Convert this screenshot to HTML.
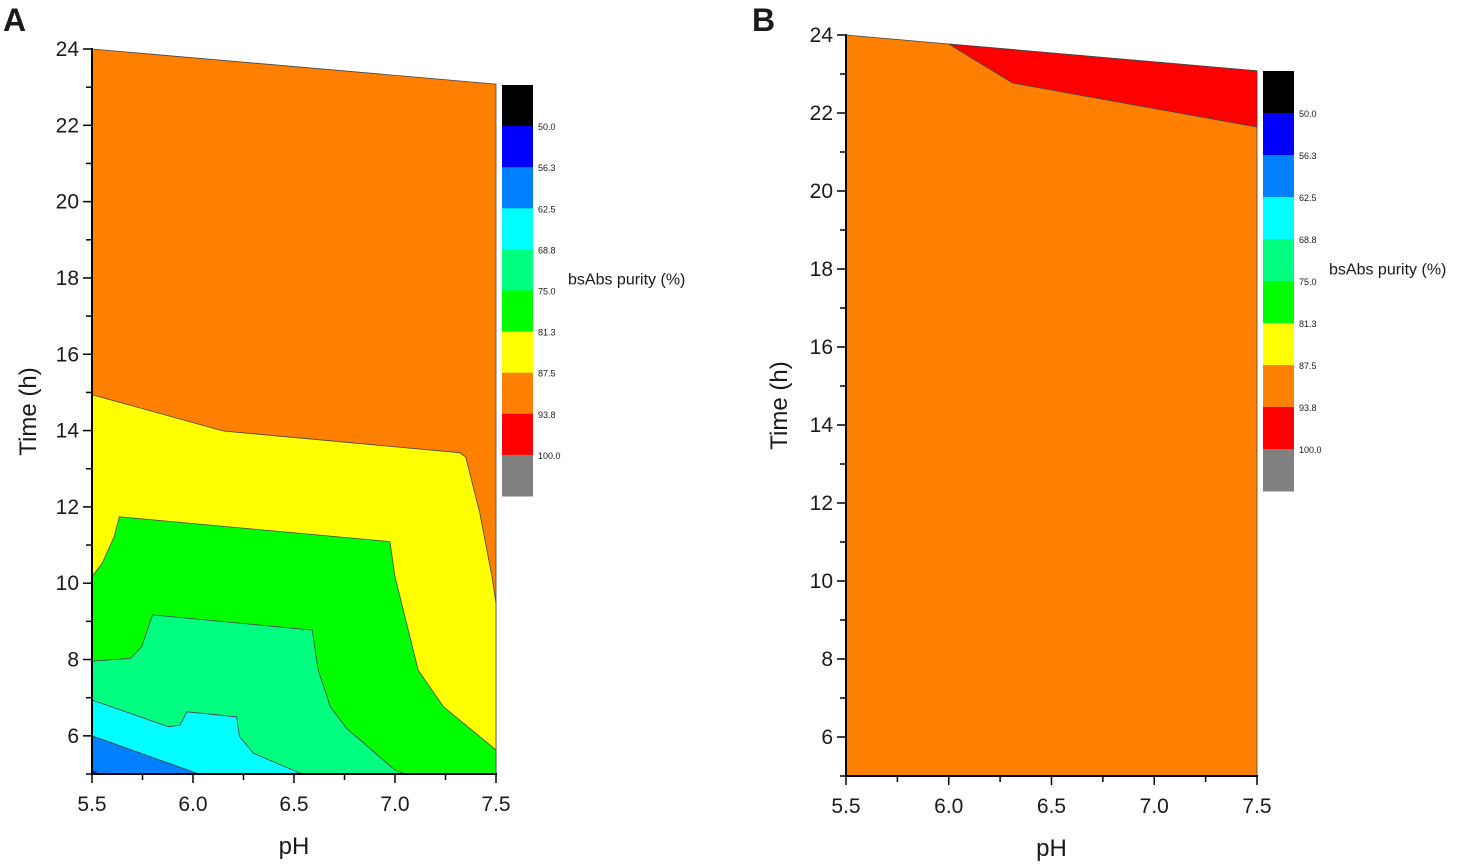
<!DOCTYPE html>
<html><head><meta charset="utf-8"><style>
body{margin:0;background:#fff;width:1462px;height:865px;overflow:hidden}
svg{display:block}
text{font-family:"Liberation Sans",Arial,sans-serif;fill:#1a1a1a}
</style></head><body>
<svg id="chart" width="1462" height="865" viewBox="0 0 1462 865"></svg>
<script>
// ---- data ----
const xTicks=[5.5,6.0,6.5,7.0,7.5];
const yTicks=[6,8,10,12,14,16,18,20,22,24];
const levelLabels=["50.0","56.3","62.5","68.8","75.0","81.3","87.5","93.8","100.0"];
const levelColors=["#000000","#0000ff","#0080ff","#00ffff","#00ff80","#00ff00","#ffff00","#ff8000","#ff0000","#808080"];
// Panel A boundaries [pH, time]
const aTop=[[5.5,24.0],[7.5,23.08]];
const aOrangeYellow=[[5.5,14.94],[6.15,13.99],[7.32,13.42],[7.35,13.31],[7.42,11.84],[7.48,10.17],[7.5,9.47]];
const aYellowGreen=[[5.5,10.17],[5.55,10.52],[5.61,11.22],[5.635,11.74],[6.975,11.09],[7.0,10.17],[7.115,7.72],[7.24,6.76],[7.5,5.63]];
const aGreenTeal=[[5.5,7.96],[5.69,8.03],[5.746,8.34],[5.80,9.17],[6.59,8.77],[6.62,7.72],[6.68,6.76],[6.76,6.20],[7.0,5.10],[7.05,5.0]];
const aTealCyan=[[5.5,6.94],[5.878,6.24],[5.935,6.28],[5.97,6.63],[6.216,6.50],[6.23,5.98],[6.30,5.54],[6.54,5.0]];
const aCyanBlue=[[5.5,6.0],[6.03,5.0]];
const aBlueDark=[[5.5,5.1],[5.54,5.0]];
// Panel B
const bTop=[[5.5,24.0],[6.0,23.77],[7.5,23.08]];
const bRed=[[6.0,23.77],[7.5,23.08],[7.5,21.64],[6.31,22.77]];

const svg=document.getElementById('chart');
const NS='http://www.w3.org/2000/svg';
function mk(tag,attrs,parent){const e=document.createElementNS(NS,tag);for(const k in attrs)e.setAttribute(k,attrs[k]);(parent||svg).appendChild(e);return e;}

function panel(P){
  const sx=v=>P.x0+(v-5.5)/2*(P.x1-P.x0);
  const sy=v=>P.yb-(v-5)/19*(P.yb-P.yt24);
  const g=mk('g',{});
  
  
  const pts=a=>a.map(p=>sx(p[0]).toFixed(1)+','+sy(p[1]).toFixed(1)).join(' ');
  function below(curve,color,name){
    let a=curve.slice();
    const last=a[a.length-1];
    if(last[1]>5) a.push([7.5,5]);
    a.push([5.5,5]);
    const p=mk('polygon',{points:pts(a),fill:color,stroke:'#444','stroke-width':0.8},g);
    
    
  }
  P.regions.forEach(r=>{
    if(r.closed){const p=mk('polygon',{points:pts(r.curve),fill:r.color,stroke:'#444','stroke-width':0.8},g);
      
      }
    else below(r.curve,r.color,r.name);
  });
  // axes
  const ax=mk('g',{stroke:'#000','stroke-width':2},g);
  
  
  mk('line',{x1:sx(5.5),y1:sy(24)-1,x2:sx(5.5),y2:sy(5)+1},ax);
  mk('line',{x1:sx(5.5)-1,y1:sy(5),x2:sx(7.5)+1,y2:sy(5)},ax);
  for(let v=5;v<=24;v++){const maj=v%2===0;mk('line',{x1:sx(5.5),x2:sx(5.5)-(maj?9:6),y1:sy(v),y2:sy(v),'stroke-width':1.5},ax);}
  for(let v=5.5;v<=7.51;v+=0.25){const maj=Math.abs((v*2)-Math.round(v*2))<0.01;mk('line',{x1:sx(v),x2:sx(v),y1:sy(5),y2:sy(5)+(maj?9:6),'stroke-width':1.5},ax);}
  yTicks.forEach(v=>{const t=mk('text',{x:sx(5.5)-13,y:sy(v)+7,'text-anchor':'end','font-size':21},g);t.textContent=v;
    });
  xTicks.forEach(v=>{const t=mk('text',{x:sx(v),y:sy(5)+37,'text-anchor':'middle','font-size':21},g);t.textContent=v.toFixed(1);
    });
  const xl=mk('text',{x:(sx(5.5)+sx(7.5))/2,y:P.yb+80,'text-anchor':'middle','font-size':24},g);xl.textContent='pH';
  
  const yc=(P.yt24+P.yb)/2;
  const yl=mk('text',{x:P.ylx,y:yc,'text-anchor':'middle','font-size':24,transform:`rotate(-90 ${P.ylx} ${yc})`},g);yl.textContent='Time (h)';
  
  const L=mk('text',{x:P.lx,y:P.ly,'font-size':32,'font-weight':'bold'},g);L.textContent=P.letter;
  
  // colorbar
  const cb=mk('g',{},g);
  
  const h=(P.cb1-P.cb0)/levelColors.length;
  levelColors.forEach((c,i)=>{const r=mk('rect',{x:P.cbx,y:P.cb0+i*h,width:31,height:h+0.5,fill:c},cb);
    });
  levelLabels.forEach((s,i)=>{const t=mk('text',{x:P.cbx+36,y:P.cb0+(i+1)*h+4,'font-size':9,fill:'#444'},cb);t.textContent=s;
    });
  const ct=mk('text',{x:P.cbx+66,y:P.cb0+h*4.85,'font-size':16},cb);ct.textContent='bsAbs purity (%)';
  
}

panel({name:'panel-a',letter:'A',lx:3,ly:31,x0:92,x1:496,yb:774,yt24:49,ylx:36,cbx:502,cb0:85,cb1:496,
  regions:[
    {curve:aTop,color:'#ff8000',name:'region-87-94'},
    {curve:aOrangeYellow,color:'#ffff00',name:'region-81-87'},
    {curve:aYellowGreen,color:'#00ff00',name:'region-75-81'},
    {curve:aGreenTeal,color:'#00ff80',name:'region-69-75'},
    {curve:aTealCyan,color:'#00ffff',name:'region-62-69'},
    {curve:aCyanBlue,color:'#0080ff',name:'region-56-62'},
    {curve:aBlueDark,color:'#0000ff',name:'region-50-56'}]});
panel({name:'panel-b',letter:'B',lx:752,ly:31,x0:846,x1:1257,yb:776,yt24:35,ylx:787,cbx:1263,cb0:71,cb1:491,
  regions:[
    {curve:bTop,color:'#ff8000',name:'region-87-94'},
    {curve:bRed,color:'#ff0000',name:'region-94-100',closed:true}]});
</script>
</body></html>
